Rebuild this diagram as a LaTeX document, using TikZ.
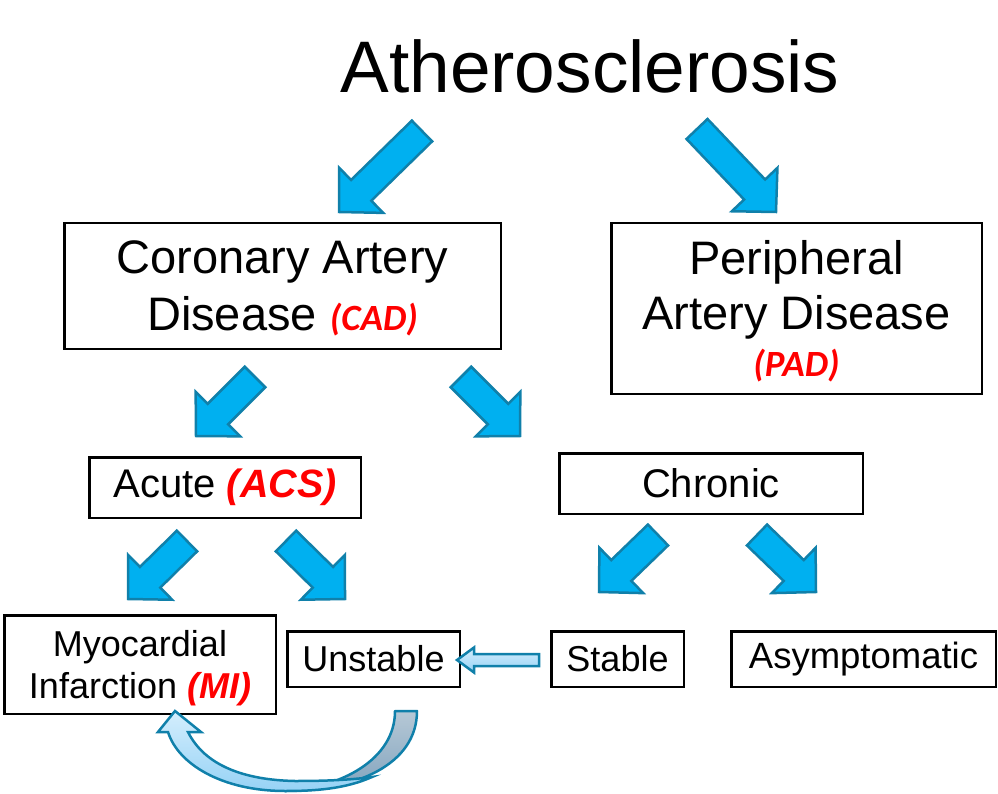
\documentclass[tikz,border=0pt]{standalone}
\usepackage{fontspec}
\setmainfont{Liberation Sans}
\newfontfamily\calibri{Carlito}
\usetikzlibrary{calc}
\tikzset{>=stealth}

\definecolor{arrowblue}{RGB}{0,176,240}
\definecolor{arrowedge}{RGB}{16,128,170}
\definecolor{paleblue}{RGB}{212,238,253}
\definecolor{midblue}{RGB}{150,210,245}
\definecolor{backlight}{RGB}{182,200,214}
\definecolor{backdark}{RGB}{130,164,190}
\definecolor{tagred}{RGB}{255,0,0}

% red abbreviations after the names
\newcommand{\redtag}[2][38]{{\color{tagred}\bfseries\itshape\fontsize{#1}{#1}\selectfont #2}}
\newcommand{\redcal}[1]{{\color{tagred}\calibri\bfseries\itshape\fontsize{37}{37}\selectfont #1}}

% block arrow from tail #2 to tip #3: shaft half width #4, head half width #5, head length #6
\newcommand{\blockarrow}[6][bigarrow]{%
  \coordinate (ba-h) at ($(#3)!#6pt!(#2)$);
  \draw[#1] ($(#2)!#4pt!90:(#3)$) -- ($(ba-h)!#4pt!90:(#3)$) -- ($(ba-h)!#5pt!90:(#3)$)
    -- (#3) -- ($(ba-h)!#5pt!-90:(#3)$) -- ($(ba-h)!#4pt!-90:(#3)$) -- ($(#2)!#4pt!-90:(#3)$) -- cycle;
}

\begin{document}
\begin{tikzpicture}[x=1pt,y=-1pt,
  box/.style={draw, line width=2.5pt, inner sep=0pt, align=center},
  bigarrow/.style={draw=arrowedge, fill=arrowblue, line width=2.5pt, line join=miter},
  smallarrow/.style={draw=arrowedge, line width=2.5pt, line join=miter, top color=paleblue, bottom color=midblue},
  backband/.style={draw=arrowedge, line width=2.5pt, line join=round, top color=backlight, bottom color=backdark},
  frontband/.style={draw=arrowedge, line width=2.5pt, line join=miter, top color=paleblue, bottom color=midblue}]
\useasboundingbox (0,0) rectangle (998,794);

% title and boxes
\node[font=\fontsize{73}{80}\selectfont, anchor=base] (title) at (590,93) {Atherosclerosis};
\node[box, minimum width=436.5pt, minimum height=125.5pt, text depth=0pt, font=\fontsize{47}{57}\selectfont]
  (cad) at (282.5,286) {Coronary Artery\\Disease \redcal{(CAD)}};
\node[box, minimum width=370.5pt, minimum height=170.5pt, text depth=0pt, font=\fontsize{47}{55}\selectfont]
  (pad) at (796.5,308.5) {Peripheral\\Artery Disease\\[-8pt]\redcal{(PAD)}};
\node[box, minimum width=271.5pt, minimum height=60.5pt, font=\fontsize{40}{45}\selectfont]
  (acute) at (225,487.5) {Acute \redtag[39.5]{(ACS)}};
\node[box, minimum width=303.5pt, minimum height=60.5pt, font=\fontsize{40}{45}\selectfont]
  (chronic) at (711,483.5) {Chronic};
\node[box, minimum width=271.5pt, minimum height=98.5pt, text depth=0pt, font=\fontsize{36}{42}\selectfont]
  (mi) at (140,664.5) {Myocardial\\Infarction \redtag[36]{(MI)}};
\node[box, minimum width=172.5pt, minimum height=55.5pt, font=\fontsize{36}{42}\selectfont]
  (unstable) at (373.5,659) {Unstable};
\node[box, minimum width=132.5pt, minimum height=55.5pt, font=\fontsize{36}{42}\selectfont]
  (stable) at (617.5,659) {Stable};
\node[box, minimum width=264.5pt, minimum height=55.5pt, font=\fontsize{36.5}{42}\selectfont]
  (asym) at (863.5,659) {Asymptomatic};

% tails and tips of the block arrows
\coordinate (title-l) at (422,131);   \coordinate (cad-in) at (339,212);
\coordinate (title-r) at (697,129);   \coordinate (pad-in) at (776,212);
\coordinate (cad-l) at (255,377);     \coordinate (acute-in) at (196,436);
\coordinate (cad-r) at (461,377);     \coordinate (chronic-in) at (520,436);
\coordinate (acute-l) at (187,541);   \coordinate (mi-in) at (128,599);
\coordinate (acute-r) at (286,541);   \coordinate (unstable-in) at (345,599);
\coordinate (chronic-l) at (658,535); \coordinate (stable-in) at (599,592);
\coordinate (chronic-r) at (757,535); \coordinate (asym-in) at (816,592);

\foreach \s/\e in {title-l/cad-in, title-r/pad-in, cad-l/acute-in, cad-r/chronic-in,
                   acute-l/mi-in, acute-r/unstable-in, chronic-l/stable-in, chronic-r/asym-in}
  \blockarrow{\s}{\e}{14.5}{31.5}{31};

% stable turns unstable
\coordinate (stable-out) at (539,660);
\coordinate (unstable-back) at (457,660);
\blockarrow[smallarrow]{stable-out}{unstable-back}{6}{12.5}{17}

% unstable leads to MI: curved ribbon arrow below the boxes
\draw[backband] (395,711) -- (417,711) .. controls (417,765) and (355,791) .. (285,791)
  .. controls (340,788) and (395,760) .. (395,711) -- cycle;
\draw[frontband] (168,732) -- (158,732) -- (175,711) -- (201,732) -- (188,732)
  .. controls (205,766) and (245,780) .. (295,781) .. controls (325,781) and (350,780) .. (372,777)
  .. controls (345,789) and (315,791) .. (285,791) .. controls (222,791) and (178,764) .. (168,732) -- cycle;
\end{tikzpicture}
\end{document}
